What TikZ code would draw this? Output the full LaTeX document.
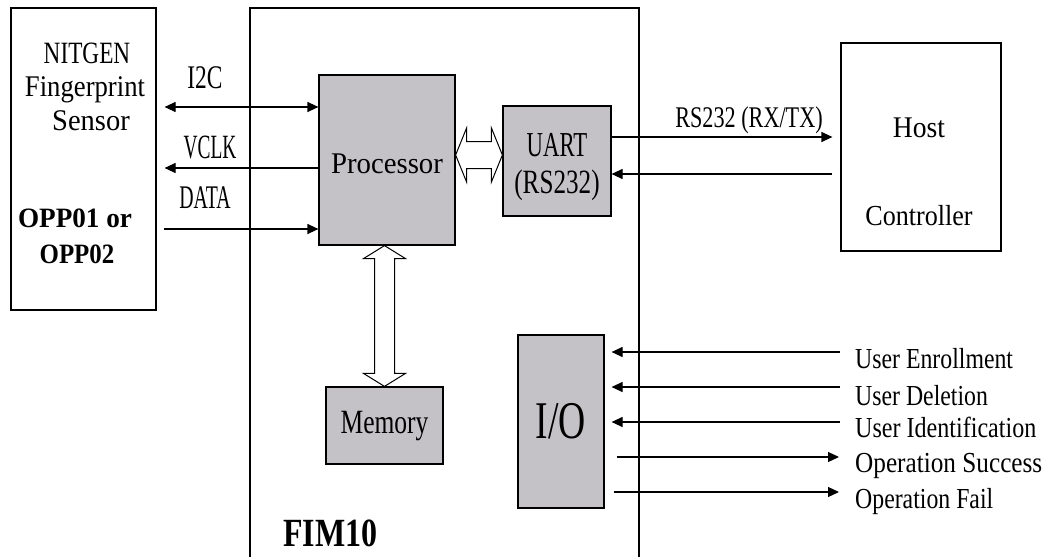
\documentclass[tikz,border=0pt]{standalone}
\usepackage{fontspec}
\setmainfont{Liberation Serif}
\usetikzlibrary{arrows.meta,calc}
\definecolor{boxgray}{RGB}{196,194,198}
% size, horizontal squeeze, text
\newcommand\lab[3]{{\fontsize{#1}{#1}\selectfont\scalebox{#2}[1]{#3}}}
\begin{document}
\begin{tikzpicture}[x=1pt,y=-1pt,
  box/.style={draw=black,line width=1.2pt,inner sep=0pt},
  graybox/.style={box,fill=boxgray},
  lbl/.style={inner sep=0pt,anchor=base},
  lblw/.style={inner sep=0pt,anchor=base west},
  sig/.style={line width=1.2pt,-{Triangle[length=11pt,width=10pt]}},
  sigb/.style={line width=1.2pt,{Triangle[length=11pt,width=10pt]}-{Triangle[length=11pt,width=10pt]}},
  hollow/.style={draw=black,line width=1pt,fill=white,line join=miter}
]
\useasboundingbox (0,0) rectangle (1049,557);
\fill[white] (0,0) rectangle (1049,557);

% FIM10 module outline (open at the bottom)
\draw[line width=1.2pt] (250,557) -- (250,8) -- (639,8) -- (639,557);
\node[lblw] (fim) at (283,546) {\lab{40}{0.8}{\bfseries FIM10}};

% boxes
\node[box,minimum width=145pt,minimum height=302pt] (sensor) at (83.5,159) {};
\node[graybox,minimum width=136pt,minimum height=170pt] (proc) at (387,160) {};
\node[graybox,minimum width=108pt,minimum height=110pt] (uart) at (557,161) {};
\node[box,minimum width=160pt,minimum height=208pt] (host) at (921,147) {};
\node[graybox,minimum width=117pt,minimum height=77pt] (mem) at (384.5,425.5) {};
\node[graybox,minimum width=86pt,minimum height=173pt] (io) at (561,421.5) {};

% sensor texts
\node[lbl] (t1) at (87,63) {\lab{31}{0.75}{NITGEN}};
\node[lbl] (t2) at (85,96) {\lab{30}{0.89}{Fingerprint}};
\node[lbl] (t3) at (91,130) {\lab{30}{0.95}{Sensor}};
\node[lbl] (t4) at (75,227) {\lab{28}{0.97}{\bfseries OPP01 or}};
\node[lbl] (t5) at (77,263) {\lab{28}{0.89}{\bfseries OPP02}};

% box texts
\node[lbl] (tp) at (387,173) {\lab{30}{0.96}{Processor}};
\node[lbl] (tu1) at (557,156) {\lab{35}{0.65}{UART}};
\node[lbl] (tu2) at (557,193) {\lab{34}{0.74}{(RS232)}};
\node[lbl] (th1) at (919,137) {\lab{30}{0.92}{Host}};
\node[lbl] (th2) at (919,225) {\lab{29}{0.9}{Controller}};
\node[lbl] (tm) at (384.5,433) {\lab{34}{0.75}{Memory}};
\node[lbl] (tio) at (561,438) {\lab{53}{0.71}{I/O}};

% sensor <-> processor signals
\coordinate (s1) at ($(sensor.east|-0,107)+(8,0)$);
\coordinate (s2) at ($(sensor.east|-0,168)+(8,0)$);
\coordinate (s3) at ($(sensor.east|-0,229)+(7,0)$);
\draw[sigb] (s1) -- (proc.west|-s1);
\draw[sig] (proc.west|-s2) -- (s2);
\draw[sig] (s3) -- (proc.west|-s3);
\node[lbl] (li2c) at (205,88) {\lab{33}{0.71}{I2C}};
\node[lbl] (lvclk) at (210,158) {\lab{34}{0.57}{VCLK}};
\node[lbl] (ldata) at (205,208) {\lab{33}{0.6}{DATA}};

% UART <-> host
\coordinate (r1) at ($(host.west|-0,137)+(-8,0)$);
\coordinate (r2) at ($(host.west|-0,174)+(-8,0)$);
\draw[sig] (uart.east|-r1) -- (r1);
\draw[sig] (r2) -- (uart.east|-r2);
\node[lbl] (lrs) at (749,127) {\lab{30}{0.74}{RS232 (RX/TX)}};

% hollow double arrow processor <-> UART
\coordinate (ha) at (proc.east|-0,155);
\coordinate (hb) at (uart.west|-0,155);
\draw[hollow] (ha) -- ($(ha)+(11,-27)$) -- ($(ha)+(11,-13.5)$) -- ($(hb)+(-11,-13.5)$)
  -- ($(hb)+(-11,-27)$) -- (hb) -- ($(hb)+(-11,27)$) -- ($(hb)+(-11,13.5)$)
  -- ($(ha)+(11,13.5)$) -- ($(ha)+(11,27)$) -- cycle;

% hollow double arrow processor <-> memory
\coordinate (va) at (mem.north|-proc.south);
\coordinate (vb) at (mem.north);
\draw[hollow] (va) -- ($(va)+(-21,13)$) -- ($(va)+(-10,13)$) -- ($(vb)+(-10,-13)$)
  -- ($(vb)+(-21,-13)$) -- (vb) -- ($(vb)+(21,-13)$) -- ($(vb)+(10,-13)$)
  -- ($(va)+(10,13)$) -- ($(va)+(21,13)$) -- cycle;

% I/O signals
\coordinate (e1) at (840,352);
\coordinate (e2) at (840,387);
\coordinate (e3) at (840,422);
\coordinate (e4) at (839,457);
\coordinate (e5) at (839,492);
\draw[sig] (e1) -- ($(io.east|-e1)+(7,0)$);
\draw[sig] (e2) -- ($(io.east|-e2)+(7,0)$);
\draw[sig] (e3) -- ($(io.east|-e3)+(7,0)$);
\draw[sig] ($(io.east|-e4)+(12,0)$) -- (e4);
\draw[sig] ($(io.east|-e5)+(9,0)$) -- (e5);
\node[lblw] (l1) at (855,368) {\lab{29}{0.82}{User Enrollment}};
\node[lblw] (l2) at (855,405) {\lab{29}{0.82}{User Deletion}};
\node[lblw] (l3) at (855,437) {\lab{29}{0.83}{User Identification}};
\node[lblw] (l4) at (855,472) {\lab{29}{0.87}{Operation Success}};
\node[lblw] (l5) at (855,508) {\lab{29}{0.82}{Operation Fail}};
\end{tikzpicture}
\end{document}
